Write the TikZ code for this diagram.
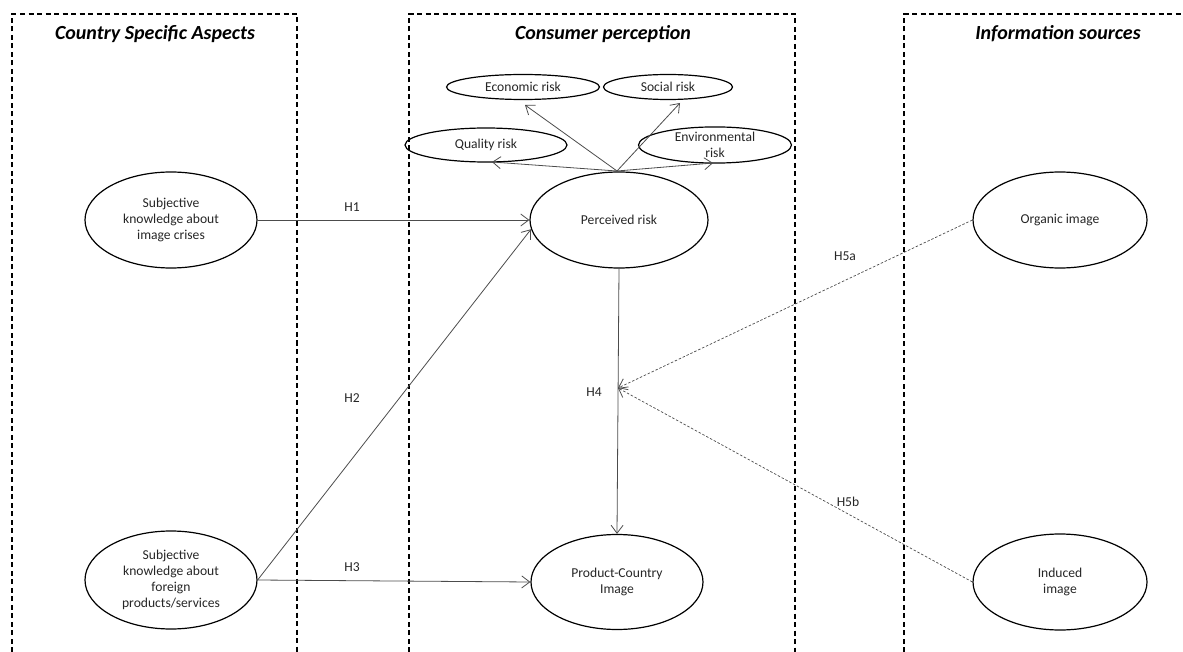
\documentclass[tikz,border=0pt]{standalone}
\usepackage{fontspec}
\setmainfont{Carlito}
\usetikzlibrary{shapes.geometric,arrows.meta}
\begin{document}
\begin{tikzpicture}[x=1pt,y=-1pt,
  grp/.style={line width=1.4pt,dash pattern=on 5pt off 3.5pt},
  ttl/.style={font=\fontsize{20}{22}\selectfont\bfseries\itshape},
  ell/.style={ellipse,draw,line width=1.2pt,inner sep=0pt,align=center,font=\fontsize{13.6}{16}\selectfont,text=black!85},
  arr/.style={draw=black!70,line width=0.8pt,-{Straight Barb[length=8pt,width=12pt,line width=0.8pt]}},
  darr/.style={arr,dash pattern=on 2.5pt off 1.8pt,line width=0.7pt},
  lbl/.style={font=\fontsize{13.6}{16}\selectfont,text=black!85}]
\useasboundingbox (0,0) rectangle (1183,652);
% group boxes
\draw[grp] (12,652) -- (12,14) -- (297,14) -- (297,652);
\draw[grp] (409,652) -- (409,14) -- (795,14) -- (795,652);
\draw[grp] (904,652) -- (904,14) -- (1183,14);
\node[ttl] (t1) at (155,34) {Country Specific Aspects};
\node[ttl] (t2) at (603,34) {Consumer perception};
\node[ttl] (t3) at (1058,34) {Information sources};
% ellipses
\node[ell,minimum width=172pt,minimum height=96pt] (ic) at (171,220) {Subjective\\knowledge about\\image crises};
\node[ell,minimum width=172pt,minimum height=98pt] (fp) at (171,580) {Subjective\\knowledge about\\foreign\\products/services};
\node[ell,minimum width=178pt,minimum height=96pt] (pr) at (619,220) {Perceived risk};
\node[ell,minimum width=172pt,minimum height=95pt] (pc) at (617,582) {Product-Country\\Image};
\node[ell,minimum width=174pt,minimum height=96pt] (oi) at (1060,220) {Organic image};
\node[ell,minimum width=174pt,minimum height=96pt] (ii) at (1060,582) {Induced\\image};
\node[ell,minimum width=153pt,minimum height=25pt] (er) at (523,87) {Economic risk};
\node[ell,minimum width=129pt,minimum height=25pt] (sr) at (668,87) {Social risk};
\node[ell,minimum width=162pt,minimum height=34pt] (qr) at (486,145) {Quality risk};
\node[ell,minimum width=153pt,minimum height=36pt] (vr) at (715,145) {Environmental\\risk};
% risk arrows
\coordinate (top) at (617,171);
\coordinate (ea) at (525,105);
\coordinate (sa) at (680,103);
\coordinate (qa) at (492,162);
\coordinate (va) at (713,163);
\draw[arr] (top) -- (ea);
\draw[arr] (top) -- (sa);
\draw[arr] (top) -- (qa);
\draw[arr] (top) -- (va);
% hypotheses
\draw[arr] (ic.east) -- (pr.west);
\draw[arr] (fp.east) -- (pr.186);
\draw[arr] (fp.east) -- (pc.west);
\draw[arr] (pr.south) -- (pc.north);
\coordinate (j) at (618,388);
\draw[darr] (oi.west) -- (j);
\draw[darr] (ii.west) -- (j);
\node[lbl] (h1) at (352,207) {H1};
\node[lbl] (h2) at (352,398) {H2};
\node[lbl] (h3) at (352,567) {H3};
\node[lbl] (h4) at (594,392) {H4};
\node[lbl] (h5a) at (845,256) {H5a};
\node[lbl] (h5b) at (848,502) {H5b};
\end{tikzpicture}
\end{document}
